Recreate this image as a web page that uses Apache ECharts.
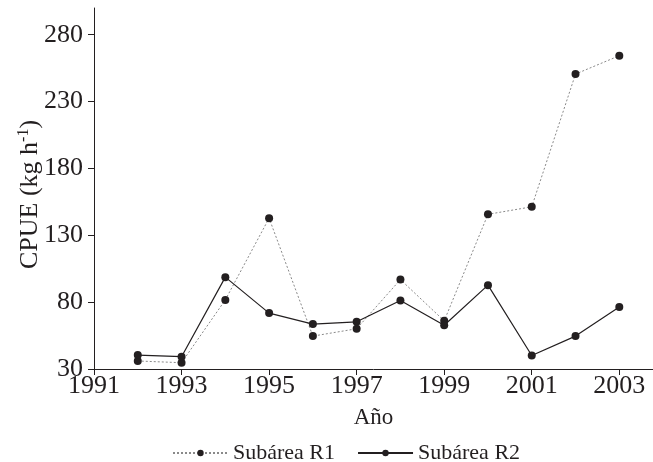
<!DOCTYPE html>
<html>
<head>
<meta charset="utf-8">
<script src="https://cdn.jsdelivr.net/npm/echarts@6/dist/echarts.min.js"></script>
<style>html,body{margin:0;padding:0;background:#fff}#c{width:653px;height:462px}</style>
</head>
<body>
<div id="c"></div>
<script>
var years = [1992,1993,1994,1995,1996,1997,1998,1999,2000,2001,2002,2003];
var r1 = [36.0,34.7,81.7,142.8,54.6,60.1,96.9,66.0,145.7,151.3,250.6,264.3];
var r2 = [40.4,39.2,98.7,71.8,63.6,65.3,81.2,62.7,92.7,40.1,54.6,76.3];
var xTicks = [1991,1993,1995,1997,1999,2001,2003];
var yTicks = [30,80,130,180,230,280];
var seriesNames = ['Subárea R1','Subárea R2'];

var FONT = "'Liberation Serif','Times New Roman',serif";
function pairs(v){ return years.map(function(y,i){ return [y, v[i]]; }); }

var chart = echarts.init(document.getElementById('c'), null, {renderer:'canvas'});
chart.setOption({
  animation:false,
  backgroundColor:'#fff',
  textStyle:{fontFamily:FONT, color:'#231f20'},
  grid:{left:94, right:0, top:8, bottom:93, containLabel:false},
  legend:{
    left:167, top:437, itemWidth:55, itemHeight:8, itemGap:22,
    textStyle:{fontFamily:FONT, fontSize:22, color:'#231f20'},
    data:seriesNames
  },
  xAxis:{
    type:'value', min:1991, max:2003.77,
    name:'Año', nameLocation:'middle', nameGap:37, nameMoveOverlap:false,
    nameTextStyle:{fontFamily:FONT, fontSize:23, color:'#231f20'},
    splitLine:{show:false},
    axisLine:{show:true, lineStyle:{color:'#231f20', width:1}},
    axisTick:{show:true, length:6, customValues:xTicks, lineStyle:{color:'#231f20'}},
    axisLabel:{customValues:xTicks, fontFamily:FONT, fontSize:26, color:'#231f20', margin:4,
      formatter:function(v){ return String(v); }}
  },
  yAxis:{
    type:'value', min:30, max:300,
    name:'{a|CPUE (kg h}{s|-1}{a|)}', nameLocation:'middle', nameGap:50, nameRotate:90,
    nameMoveOverlap:false,
    nameTextStyle:{padding:[0,12,0,0], rich:{
      a:{fontFamily:FONT, fontSize:26, color:'#231f20'},
      s:{fontFamily:FONT, fontSize:16, color:'#231f20', padding:[0,0,12,0]}
    }},
    splitLine:{show:false},
    axisLine:{show:true, lineStyle:{color:'#231f20', width:1}},
    axisTick:{show:true, length:6, customValues:yTicks, lineStyle:{color:'#231f20'}},
    axisLabel:{customValues:yTicks, fontFamily:FONT, fontSize:26, color:'#231f20', margin:11}
  },
  series:[
    {name:seriesNames[0], type:'line', data:pairs(r1), symbol:'circle', symbolSize:8,
     itemStyle:{color:'#231f20'}, lineStyle:{color:'#8a8a8a', width:1, type:[2,2]}},
    {name:seriesNames[1], type:'line', data:pairs(r2), symbol:'circle', symbolSize:8,
     itemStyle:{color:'#231f20'}, lineStyle:{color:'#231f20', width:1.2, type:'solid'}}
  ]
});
</script>
</body>
</html>
